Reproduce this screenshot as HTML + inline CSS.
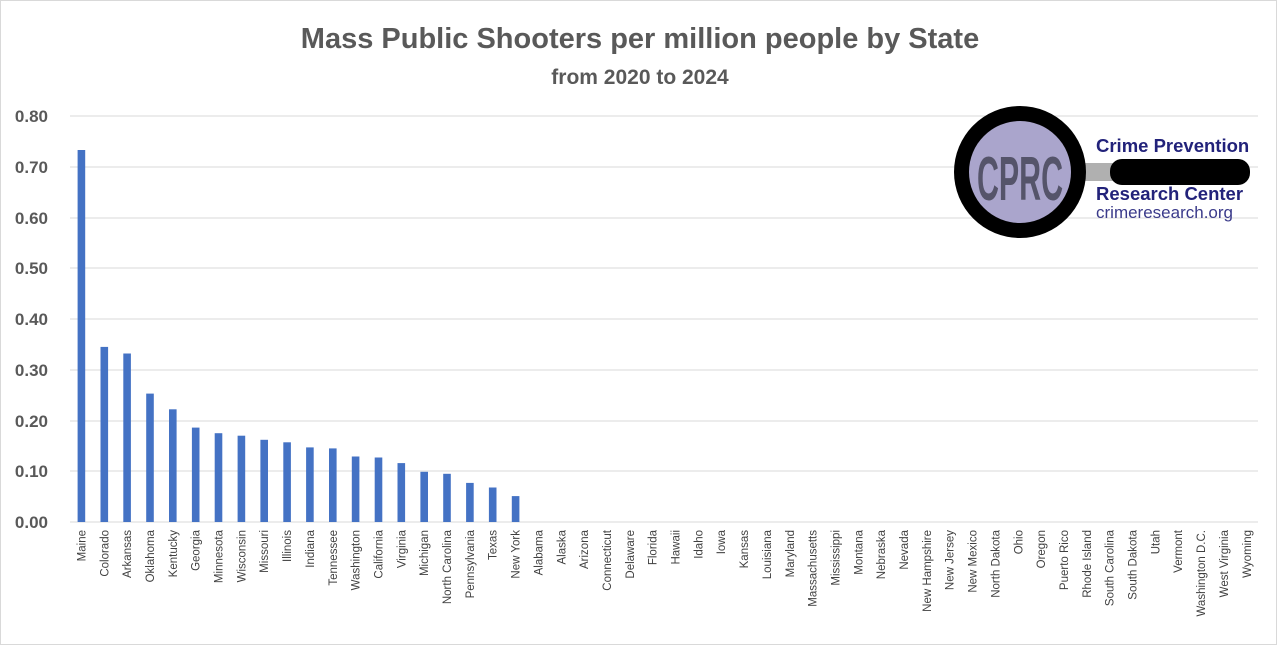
<!DOCTYPE html>
<html><head><meta charset="utf-8"><style>
body{margin:0;background:#fff}
svg{display:block;font-family:"Liberation Sans",Arial,sans-serif}
</style></head><body>
<svg width="1277" height="645" viewBox="0 0 1277 645" xmlns="http://www.w3.org/2000/svg">
<rect x="0.5" y="0.5" width="1276" height="644" fill="#fff" stroke="#d9d9d9"/>
<text x="640" y="48" text-anchor="middle" font-size="29" font-weight="bold" fill="#595959">Mass Public Shooters per million people by State</text>
<text x="640" y="84" text-anchor="middle" font-size="21" font-weight="bold" fill="#595959">from 2020 to 2024</text>
<g stroke="#d9d9d9" stroke-width="1">
<line x1="70" x2="1258" y1="116" y2="116"/><line x1="70" x2="1258" y1="167" y2="167"/>
<line x1="70" x2="1258" y1="218" y2="218"/><line x1="70" x2="1258" y1="268" y2="268"/>
<line x1="70" x2="1258" y1="319" y2="319"/><line x1="70" x2="1258" y1="370" y2="370"/>
<line x1="70" x2="1258" y1="421" y2="421"/><line x1="70" x2="1258" y1="471" y2="471"/>
<line x1="70" x2="1258" y1="522" y2="522"/>
</g>
<g font-size="17" font-weight="bold" fill="#595959" text-anchor="end">
<text x="48" y="122">0.80</text><text x="48" y="173">0.70</text><text x="48" y="224">0.60</text>
<text x="48" y="274">0.50</text><text x="48" y="325">0.40</text><text x="48" y="376">0.30</text>
<text x="48" y="427">0.20</text><text x="48" y="477">0.10</text><text x="48" y="528">0.00</text>
</g>
<g fill="#4472c4">
<rect x="77.6" y="150.0" width="7.6" height="372.0"/>
<rect x="100.5" y="346.9" width="7.6" height="175.1"/>
<rect x="123.3" y="353.5" width="7.6" height="168.5"/>
<rect x="146.2" y="393.6" width="7.6" height="128.4"/>
<rect x="169.0" y="409.3" width="7.6" height="112.7"/>
<rect x="191.9" y="427.6" width="7.6" height="94.4"/>
<rect x="214.7" y="433.2" width="7.6" height="88.8"/>
<rect x="237.6" y="435.7" width="7.6" height="86.3"/>
<rect x="260.4" y="439.8" width="7.6" height="82.2"/>
<rect x="283.3" y="442.3" width="7.6" height="79.7"/>
<rect x="306.1" y="447.4" width="7.6" height="74.6"/>
<rect x="329.0" y="448.4" width="7.6" height="73.6"/>
<rect x="351.8" y="456.5" width="7.6" height="65.5"/>
<rect x="374.7" y="457.5" width="7.6" height="64.5"/>
<rect x="397.5" y="463.1" width="7.6" height="58.9"/>
<rect x="420.4" y="471.8" width="7.6" height="50.2"/>
<rect x="443.2" y="473.8" width="7.6" height="48.2"/>
<rect x="466.1" y="482.9" width="7.6" height="39.1"/>
<rect x="488.9" y="487.5" width="7.6" height="34.5"/>
<rect x="511.8" y="496.1" width="7.6" height="25.9"/>
</g>
<g font-size="11.5" fill="#404040" text-anchor="end">
<text transform="translate(85.4,530) rotate(-90)">Maine</text>
<text transform="translate(108.3,530) rotate(-90)">Colorado</text>
<text transform="translate(131.1,530) rotate(-90)">Arkansas</text>
<text transform="translate(154.0,530) rotate(-90)">Oklahoma</text>
<text transform="translate(176.8,530) rotate(-90)">Kentucky</text>
<text transform="translate(199.7,530) rotate(-90)">Georgia</text>
<text transform="translate(222.5,530) rotate(-90)">Minnesota</text>
<text transform="translate(245.4,530) rotate(-90)">Wisconsin</text>
<text transform="translate(268.2,530) rotate(-90)">Missouri</text>
<text transform="translate(291.1,530) rotate(-90)">Illinois</text>
<text transform="translate(313.9,530) rotate(-90)">Indiana</text>
<text transform="translate(336.8,530) rotate(-90)">Tennessee</text>
<text transform="translate(359.6,530) rotate(-90)">Washington</text>
<text transform="translate(382.5,530) rotate(-90)">California</text>
<text transform="translate(405.3,530) rotate(-90)">Virginia</text>
<text transform="translate(428.2,530) rotate(-90)">Michigan</text>
<text transform="translate(451.0,530) rotate(-90)">North Carolina</text>
<text transform="translate(473.9,530) rotate(-90)">Pennsylvania</text>
<text transform="translate(496.7,530) rotate(-90)">Texas</text>
<text transform="translate(519.6,530) rotate(-90)">New York</text>
<text transform="translate(542.4,530) rotate(-90)">Alabama</text>
<text transform="translate(565.3,530) rotate(-90)">Alaska</text>
<text transform="translate(588.1,530) rotate(-90)">Arizona</text>
<text transform="translate(611.0,530) rotate(-90)">Connecticut</text>
<text transform="translate(633.8,530) rotate(-90)">Delaware</text>
<text transform="translate(656.7,530) rotate(-90)">Florida</text>
<text transform="translate(679.5,530) rotate(-90)">Hawaii</text>
<text transform="translate(702.4,530) rotate(-90)">Idaho</text>
<text transform="translate(725.2,530) rotate(-90)">Iowa</text>
<text transform="translate(748.1,530) rotate(-90)">Kansas</text>
<text transform="translate(770.9,530) rotate(-90)">Louisiana</text>
<text transform="translate(793.8,530) rotate(-90)">Maryland</text>
<text transform="translate(816.6,530) rotate(-90)">Massachusetts</text>
<text transform="translate(839.5,530) rotate(-90)">Mississippi</text>
<text transform="translate(862.3,530) rotate(-90)">Montana</text>
<text transform="translate(885.2,530) rotate(-90)">Nebraska</text>
<text transform="translate(908.0,530) rotate(-90)">Nevada</text>
<text transform="translate(930.9,530) rotate(-90)">New Hampshire</text>
<text transform="translate(953.7,530) rotate(-90)">New Jersey</text>
<text transform="translate(976.6,530) rotate(-90)">New Mexico</text>
<text transform="translate(999.4,530) rotate(-90)">North Dakota</text>
<text transform="translate(1022.3,530) rotate(-90)">Ohio</text>
<text transform="translate(1045.1,530) rotate(-90)">Oregon</text>
<text transform="translate(1068.0,530) rotate(-90)">Puerto Rico</text>
<text transform="translate(1090.8,530) rotate(-90)">Rhode Island</text>
<text transform="translate(1113.7,530) rotate(-90)">South Carolina</text>
<text transform="translate(1136.5,530) rotate(-90)">South Dakota</text>
<text transform="translate(1159.4,530) rotate(-90)">Utah</text>
<text transform="translate(1182.2,530) rotate(-90)">Vermont</text>
<text transform="translate(1205.1,530) rotate(-90)">Washington D.C.</text>
<text transform="translate(1227.9,530) rotate(-90)">West Virginia</text>
<text transform="translate(1250.8,530) rotate(-90)">Wyoming</text>
</g>
<g>
<rect x="1085" y="163" width="30" height="18" fill="#b0b0b0"/>
<rect x="1110" y="159" width="140" height="26" rx="12" fill="#000"/>
<circle cx="1020" cy="172" r="66" fill="#000"/>
<circle cx="1020" cy="172" r="51" fill="#aaa5cc"/>
<text x="1020" y="200" text-anchor="middle" font-size="62" font-weight="bold" fill="#55546a" textLength="86" lengthAdjust="spacingAndGlyphs">CPRC</text>
<text x="1096" y="152" font-size="18.5" font-weight="bold" fill="#22227a">Crime Prevention</text>
<text x="1096" y="200" font-size="18.5" font-weight="bold" fill="#22227a">Research Center</text>
<text x="1096" y="218" font-size="17" fill="#3a3a8a">crimeresearch.org</text>
</g>
</svg>
</body></html>
